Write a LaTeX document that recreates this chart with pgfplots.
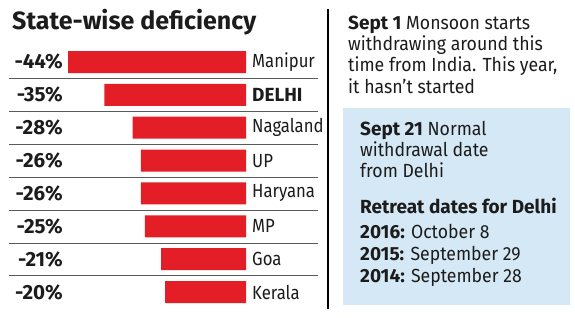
\documentclass[border=0pt]{standalone}
\usepackage{fontspec}
\setmainfont{Fira Sans}[FakeStretch=0.88, BoldFeatures={FakeStretch=1.0}]
\newfontfamily\notefont{Fira Sans}[FakeStretch=0.93, BoldFeatures={FakeStretch=1.0}]
\usepackage{pgfplots}
\usepackage{pgfplotstable}
\pgfplotsset{compat=1.18}

\definecolor{barred}{HTML}{E31E26}
\definecolor{ink}{HTML}{1C1C1C}
\definecolor{rule}{HTML}{5A5A5A}
\definecolor{boxblue}{HTML}{D5E8F5}

% Rainfall deficiency by state (per cent), top to bottom
\pgfplotstableread{
idx val
0 -44
1 -35
2 -28
3 -26
4 -26
5 -25
6 -21
7 -20
}\deficiency

\begin{document}
\begin{tikzpicture}[every node/.style={text=ink}]
\path[use as bounding box, fill=white] (0,0) rectangle (575pt,317pt);

% title
\node[anchor=base west, inner sep=0pt, font=\fontsize{25}{28}\bfseries] at (12pt,288pt) {State-wise deficiency};

% row separators
\foreach \yy in {78.5,111.5,144.5,177,210,243,275.5}
  \draw[rule, line width=0.8pt] (9pt,317pt-\yy pt) -- (318pt,317pt-\yy pt);

% vertical divider
\draw[black, line width=1.1pt] (328pt,8pt) -- (328pt,308pt);

\begin{axis}[
  at={(246pt,271.43pt)}, anchor=north east,
  scale only axis, width=242.7pt, height=262.9pt,
  xmin=-60, xmax=0, ymin=-0.5, ymax=7.5, y dir=reverse,
  hide x axis,
  y axis line style={draw=none},
  major tick length=0pt,
  ytick={0,...,7},
  yticklabels={Manipur,\textbf{DELHI},Nagaland,UP,Haryana,MP,Goa,Kerala},
  yticklabel pos=right,
  yticklabel style={anchor=west, inner sep=0pt, xshift=6pt, font=\fontsize{19}{22}\selectfont, text=ink},
  clip=false,
]
% value labels share one right-aligned column left of the bars
\addplot[xbar, fill=barred, draw=none, bar width=22pt,
  point meta=explicit symbolic,
  visualization depends on={x \as \rawx},
  nodes near coords={\pgfplotspointmeta\%},
  every node near coord/.append style={anchor=east, inner sep=0pt,
    xshift={-183pt-4.045pt*(\rawx)},
    font=\fontsize{20.5}{22}\bfseries, text=ink}]
  table[x=val, y=idx, meta=val] {\deficiency};
\end{axis}

% right-hand notes
\begin{scope}[every node/.style={anchor=base west, inner sep=0pt, text=ink, font=\notefont\fontsize{19}{21}\selectfont}]
\node at (348pt,288pt) {\textbf{Sept 1} Monsoon starts};
\node at (348pt,267pt) {withdrawing around this};
\node at (348pt,246pt) {time from India. This year,};
\node at (348pt,224pt) {it hasn’t started};

\fill[boxblue] (343pt,12pt) rectangle (570pt,209pt);

\node at (360pt,182pt) {\textbf{Sept 21} Normal};
\node at (360pt,161pt) {withdrawal date};
\node at (360pt,140pt) {from Delhi};
\node at (360pt,104pt) {\textbf{Retreat dates for Delhi}};
\node at (360pt,79pt) {\textbf{2016:} October 8};
\node at (360pt,57pt) {\textbf{2015:} September 29};
\node at (360pt,35pt) {\textbf{2014:} September 28};
\end{scope}
\end{tikzpicture}
\end{document}
